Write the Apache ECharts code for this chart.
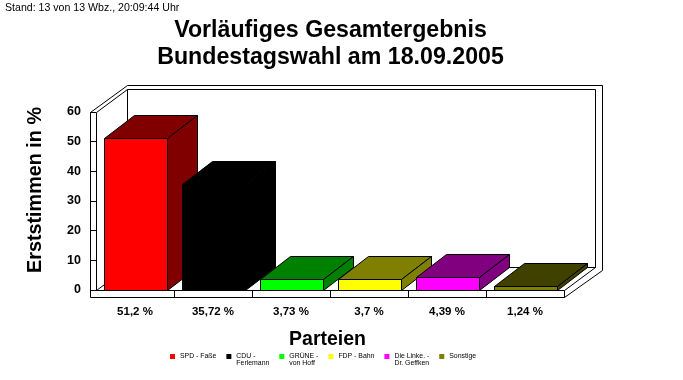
<!DOCTYPE html>
<html><head><meta charset="utf-8">
<style>html,body{margin:0;padding:0;background:#fff}#c{width:683px;height:380px}</style>
<script src="https://cdn.jsdelivr.net/npm/echarts@6/dist/echarts.min.js"></script>
</head><body><div id="c"></div>
<script>
const parties = ['SPD - Faße','CDU -\nFerlemann','GRÜNE -\nvon Hoff','FDP - Bahn','Die Linke. -\nDr. Geffken','Sonstige'];
const values = [51.2,35.72,3.73,3.7,4.39,1.24];
const tickLabels = ['51,2 %','35,72 %','3,73 %','3,7 %','4,39 %','1,24 %'];
const frontColors = ['#ff0000','#000000','#00ff00','#ffff00','#ff00ff','#808000'];
const darkColors = ['#800000','#000000','#008000','#808000','#800080','#404000'];
const FONT = '"Liberation Sans", Arial, sans-serif';
const DX = 31, DY = 23, BAR_DX = 30, WALL = 6;

const px = v => Math.round(v) + 0.5;
const line = (a, b) => ({type:'line', shape:{x1:a[0],y1:a[1],x2:b[0],y2:b[1]}, style:{stroke:'#000',lineWidth:1,fill:null}});
const poly = (pts, fill) => ({type:'polygon', shape:{points:pts}, style:{fill:fill,stroke:'#000',lineWidth:1}});

function renderFrame(params, api){
  const tl = api.coord([0, 60]), br = api.coord([5, 0]);
  const band = api.size([1,0])[0];
  const L = px(tl[0]-band/2), R = px(br[0]+band/2), T = px(tl[1]), B = px(br[1]);
  const o = WALL, oy = 7;
  const ticks = parties.map((p,i)=>{
    const x = px(api.coord([i,0])[0]+band/2);
    return line([x,B],[x,B+oy]);
  });
  return {type:'group', children:[
    poly([[L-o,T],[L+DX-o+6,T-DY-4],[R+DX+o+1,T-DY-4],[R+DX+o+1,B-DY+3],[R,B+oy],[L-o,B+oy]],'#fff'),
    line([L,T],[L,B]),
    line([L,T],[L+DX,T-DY]),
    line([L+DX,T-DY],[R+DX,T-DY]),
    line([L+DX,T-DY],[L+DX,B-DY]),
    line([R+DX,T-DY],[R+DX,B-DY]),
    line([L+DX,B-DY],[R+DX,B-DY]),
    line([L,B],[L+DX,B-DY]),
    line([R,B],[R+DX,B-DY]),
    line([L-o,B],[R,B])
  ].concat(ticks)};
}
function renderBar(params, api){
  const i = api.value(0), top = api.coord([i, api.value(1)]), base = api.coord([i, 0]);
  const w = api.size([1,0])[0]*0.8;
  const x1 = px(top[0]-w/2+0.5), x2 = px(top[0]+w/2+0.5), y1 = px(top[1]), y2 = px(base[1]);
  return {type:'group', children:[
    poly([[x1,y1],[x1+BAR_DX,y1-DY],[x2+BAR_DX,y1-DY],[x2,y1]], darkColors[i]),
    poly([[x2,y1],[x2+BAR_DX,y1-DY],[x2+BAR_DX,y2-DY],[x2,y2]], darkColors[i]),
    poly([[x1,y1],[x2,y1],[x2,y2],[x1,y2]], frontColors[i])
  ]};
}

const series = [{name:'frame', type:'custom', renderItem:renderFrame, data:[[0,60]], silent:true, z:1, encode:{x:0,y:1}}];
parties.forEach((p,i)=>series.push({name:p,type:'custom',renderItem:renderBar,data:[[i,values[i]]],itemStyle:{color:frontColors[i],borderColor:'#000'},z:3,encode:{x:0,y:1},silent:true}));

const chart = echarts.init(document.getElementById('c'), null, {renderer:'canvas'});
chart.setOption({
  animation:false,
  backgroundColor:'#fff',
  title:[
    {text:'Vorläufiges Gesamtergebnis\nBundestagswahl am 18.09.2005', left:325.5, top:12, textAlign:'center',
     textStyle:{fontFamily:FONT,fontSize:23.2,fontWeight:'bold',color:'#000',lineHeight:27}},
    {text:'Stand: 13 von 13 Wbz., 20:09:44 Uhr', left:5, top:3, padding:0,
     textStyle:{fontFamily:FONT,fontSize:10.6,fontWeight:'normal',color:'#000',lineHeight:11}}
  ],
  grid:{left:96,right:119,top:112,bottom:90,containLabel:false},
  xAxis:{type:'category',data:tickLabels,boundaryGap:true,position:'bottom',z:2,
    name:'Parteien',nameLocation:'middle',nameGap:40,
    nameTextStyle:{fontFamily:FONT,fontSize:19.5,fontWeight:'bold',color:'#000',padding:[0,5,0,0]},
    axisLine:{show:false,onZero:false},
    axisTick:{show:false},
    splitLine:{show:false},
    axisLabel:{margin:16,fontFamily:FONT,fontSize:11.5,fontWeight:'bold',color:'#000',interval:0}},
  yAxis:{type:'value',min:0,max:60,interval:10,z:2,
    name:'Erststimmen in %',nameLocation:'middle',nameGap:50,nameRotate:90,
    nameTextStyle:{fontFamily:FONT,fontSize:19.8,fontWeight:'bold',color:'#000',padding:[0,0,0,22]},
    axisLine:{show:false},axisTick:{show:true,length:6,lineStyle:{color:'#000'}},
    splitLine:{show:false},
    axisLabel:{margin:15,fontFamily:FONT,fontSize:12.5,fontWeight:'bold',color:'#000'}},
  legend:{data:parties,left:165,top:341,icon:'rect',itemWidth:5,itemHeight:5,itemGap:10,
    formatter:n=>' \n'+(n.includes('\n')?n:n+'\n '),
    textStyle:{fontFamily:FONT,fontSize:6.9,color:'#000',lineHeight:7},selectedMode:false},
  series
});
</script></body></html>
